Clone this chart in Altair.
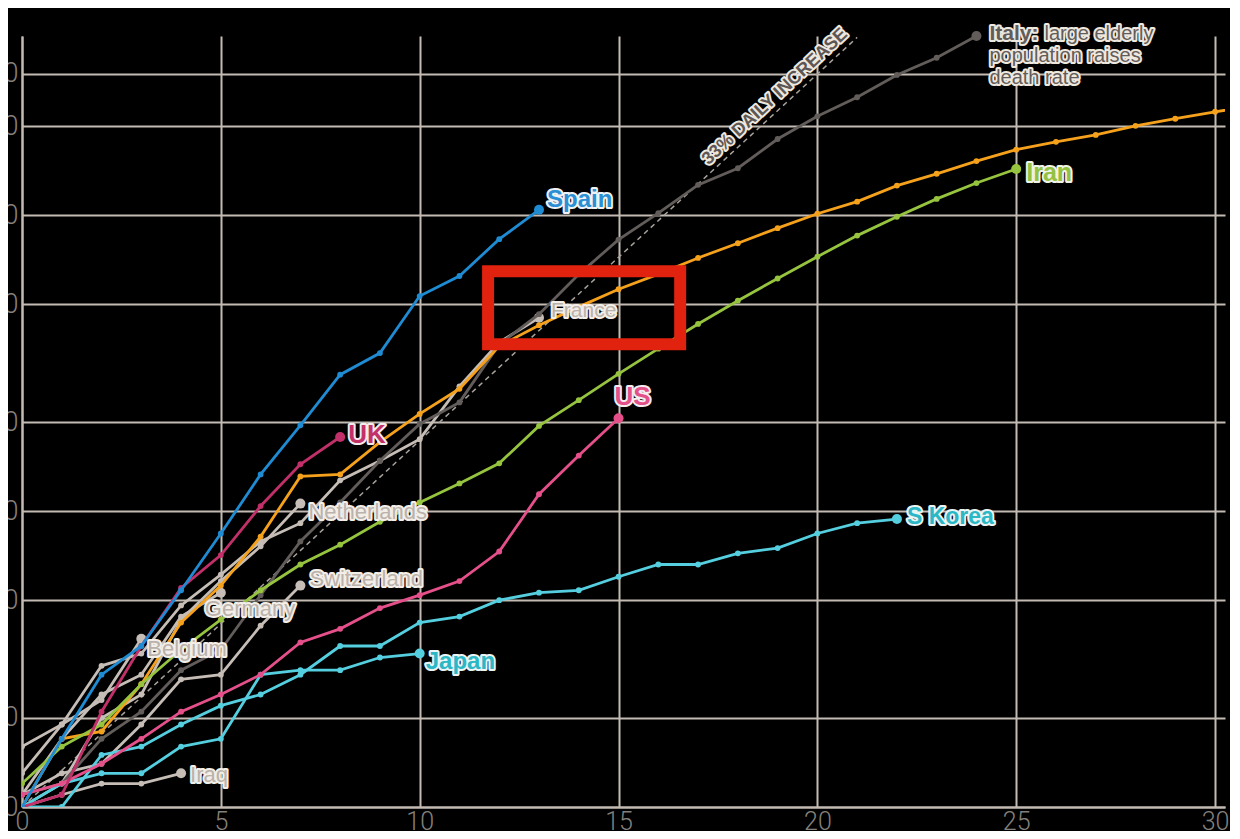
import altair as alt
import pandas as pd

# ---------------- data: cumulative deaths, by days since 10th death ----------------
spain = [10, 17, 28, 35, 54, 84, 133, 195, 289, 342, 533, 623, 830, 1043]
italy = [11, 12, 17, 21, 29, 34, 52, 79, 107, 148, 197, 233, 366, 463, 631, 827,
         1016, 1266, 1441, 1809, 2158, 2503, 2978, 3405, 4032]
iran = [12, 16, 19, 26, 34, 43, 54, 66, 77, 92, 107, 124, 145, 194, 237, 291, 354,
        429, 514, 611, 724, 853, 988, 1135, 1284, 1433]
china = [10, 17, 18, 26, 42, 56, 82, 131, 133, 171, 213, 259, 361, 425, 490, 562,
         632, 717, 804, 904, 1011, 1111, 1259, 1380, 1523, 1665, 1770, 1868, 2004,
         2118, 2236, 2345, 2442]
uk = [10, 11, 21, 35, 55, 71, 104, 144, 178]
us = [11, 12, 14, 17, 21, 24, 28, 36, 40, 47, 52, 58, 73, 114, 154, 206]
france = [16, 19, 30, 33, 48, 61, 79, 91, 127, 148, 175, 264, 372, 450]
netherlands = [10, 12, 20, 24, 43, 58, 76, 106]
switzerland = [11, 13, 14, 19, 27, 28, 41, 56]
germany = [11, 17, 24, 28, 44, 53]
belgium = [13, 19, 23, 37]
iraq = [10, 11, 12, 12, 13]
japan = [10, 12, 13, 13, 16, 17, 28, 29, 29, 32, 33]
s_korea = [10, 10, 15, 16, 19, 22, 24, 28, 35, 35, 42, 44, 50, 53, 54, 60, 66, 66,
           72, 75, 84, 91, 94]

x_ticks = [0, 5, 10, 15, 20, 25, 30]
y_ticks = [10, 20, 50, 100, 200, 500, 1000, 2000, 3000]

daily_rate = 1.33          # the "33% daily increase" guide
guide_days = [0, 21]
guide_label = "33% DAILY INCREASE"
guide_label_day = 19.14

# highlight box around France (days, deaths)
box_day = [11.72, 16.55]
box_deaths = [366, 647]

# ---------------- styles ----------------
BG = "#000000"
GRID = "#c3bbb3"
GREY = "#c5bdb6"
ITALY = "#625d5a"
CYAN = "#55cfdf"

series = [  # name, values, line colour  (drawing order)
    ("Iraq", iraq, GREY), ("Belgium", belgium, GREY), ("Germany", germany, GREY),
    ("Switzerland", switzerland, GREY), ("Netherlands", netherlands, GREY),
    ("France", france, GREY), ("Italy", italy, ITALY), ("China", china, "#f5a11c"),
    ("Iran", iran, "#96c43f"), ("Japan", japan, CYAN), ("S Korea", s_korea, CYAN),
    ("US", us, "#e5508b"), ("UK", uk, "#c2306a"), ("Spain", spain, "#1f8bd3"),
]

labels = [  # country, text, dx, dy, size, weight, fill, halo
    ("Spain", "Spain", 8, -10, 24, "bold", "#2a8fd3", "#eef2f5"),
    ("UK", "UK", 8, -2, 26, "bold", "#c23268", "#f3ecef"),
    ("US", "US", -4, -21, 26, "bold", "#e2518a", "#f5ecf0"),
    ("Iran", "Iran", 10, 4, 25, "bold", "#93c141", "#f1f3e8"),
    ("S Korea", "S Korea", 10, -2, 23, "bold", "#2bb7c5", "#eaf4f5"),
    ("Japan", "Japan", 6, 8, 24, "bold", "#2bb7c5", "#eaf4f5"),
    ("France", "France", 12, -7, 21, "normal", "#bab2ab", "#f3eee8"),
    ("Netherlands", "Netherlands", 8, 8, 22, "normal", "#bab2ab", "#f3eee8"),
    ("Switzerland", "Switzerland", 9, -7, 22, "normal", "#bab2ab", "#f3eee8"),
    ("Germany", "Germany", -16, 16, 22, "normal", "#bab2ab", "#f3eee8"),
    ("Belgium", "Belgium", 6, 10, 22, "normal", "#bab2ab", "#f3eee8"),
    ("Iraq", "Iraq", 9, 2, 22, "normal", "#bab2ab", "#f3eee8"),
]
italy_lines = [  # text, dx, dy, size, weight
    ("Italy:", 13, -2, 21, "bold"),
    ("large elderly", 68, -2, 20, "normal"),
    ("population raises", 13, 20, 20, "normal"),
    ("death rate", 13, 42, 20, "normal"),
]

FONT = "Liberation Sans"

# ---------------- chart ----------------
X = alt.Scale(domain=[0, 30.25], nice=False, zero=False)
Y = alt.Scale(type="log", domain=[10, 4032], nice=False)

AX = alt.Axis(values=x_ticks, grid=True, gridColor=GRID, gridWidth=2,
              domain=True, domainColor=GRID, domainWidth=2, ticks=False,
              labelFont="Roboto", labelFontWeight=300, labelFontSize=25,
              labelColor="#85807c", labelPadding=2, labelFlush=False, title=None)
AY = alt.Axis(values=y_ticks, grid=True, gridColor=GRID, gridWidth=2,
              domain=True, domainColor=GRID, domainWidth=2, ticks=False,
              labelFont="Roboto", labelFontWeight=300, labelFontSize=27,
              labelColor="#85807c", labelPadding=4, labelFlush=False,
              labelOverlap=False, format=",", title=None)


def xy():
    return (alt.X("day:Q", scale=X, axis=AX, title=None),
            alt.Y("deaths:Q", scale=Y, axis=AY, title=None))


layers = []

# 33% daily increase guide
guide_df = pd.DataFrame({"day": guide_days,
                         "deaths": [10 * daily_rate ** d for d in guide_days]})
gx, gy = xy()
layers.append(alt.Chart(guide_df).mark_line(color="#a8a29c", strokeWidth=1.5,
                                            strokeDash=[5, 4], clip=False)
              .encode(x=gx, y=gy))

data = {}
for name, vals, col in series:
    df = pd.DataFrame({"day": list(range(len(vals))), "deaths": vals})
    data[name] = df
    x, y = xy()
    base = alt.Chart(df).encode(x=x, y=y)
    layers.append(base.mark_line(color=col, strokeWidth=2.8, clip=True))
    layers.append(base.mark_circle(color=col, size=34, opacity=1, clip=True))
    end = df.tail(1)
    if name != "China":
        layers.append(alt.Chart(end).mark_circle(color=col, size=100, opacity=1)
                      .encode(x=x, y=y))


def halo_text(df, text, dx, dy, size, weight, fill, halo, **kw):
    x, y = xy()
    out = []
    common = dict(align=kw.get("align", "left"), baseline="middle", dx=dx, dy=dy,
                  font=FONT, fontSize=size, fontWeight=weight, text=text,
                  angle=kw.get("angle", 0))
    out.append(alt.Chart(df).mark_text(color=halo, stroke=halo, strokeWidth=4,
                                       strokeJoin="round", **common)
               .encode(x=x, y=y))
    out.append(alt.Chart(df).mark_text(color=fill, **common).encode(x=x, y=y))
    return out


for name, text, dx, dy, size, weight, fill, halo in labels:
    layers += halo_text(data[name].tail(1), text, dx, dy, size, weight, fill, halo)

for text, dx, dy, size, weight in italy_lines:
    layers += halo_text(data["Italy"].tail(1), text, dx, dy, size, weight,
                        ITALY, "#efe8df")

gl_df = pd.DataFrame({"day": [guide_label_day],
                      "deaths": [10 * daily_rate ** guide_label_day]})
layers += halo_text(gl_df, guide_label, 0, -12, 18, "bold", "#5c5754", "#efe8df",
                    align="center", angle=317)

# red highlight box
box_df = pd.DataFrame({"day": [box_day[0]], "day2": [box_day[1]],
                       "deaths": [box_deaths[0]], "deaths2": [box_deaths[1]]})
bx, by = xy()
layers.append(alt.Chart(box_df).mark_rect(fillOpacity=0, stroke="#e0220e",
                                          strokeWidth=12, clip=False)
              .encode(x=bx, x2="day2:Q", y=by, y2="deaths2:Q"))

chart = (alt.layer(*layers)
         .properties(width=1203, height=771,
                     padding={"left": 14, "top": 28, "right": 5, "bottom": 24},
                     autosize=alt.AutoSizeParams(type="none"),
                     background=BG)
         .configure_view(stroke=None))

chart.save("out.html", embed_options={"renderer": "svg", "actions": False})
